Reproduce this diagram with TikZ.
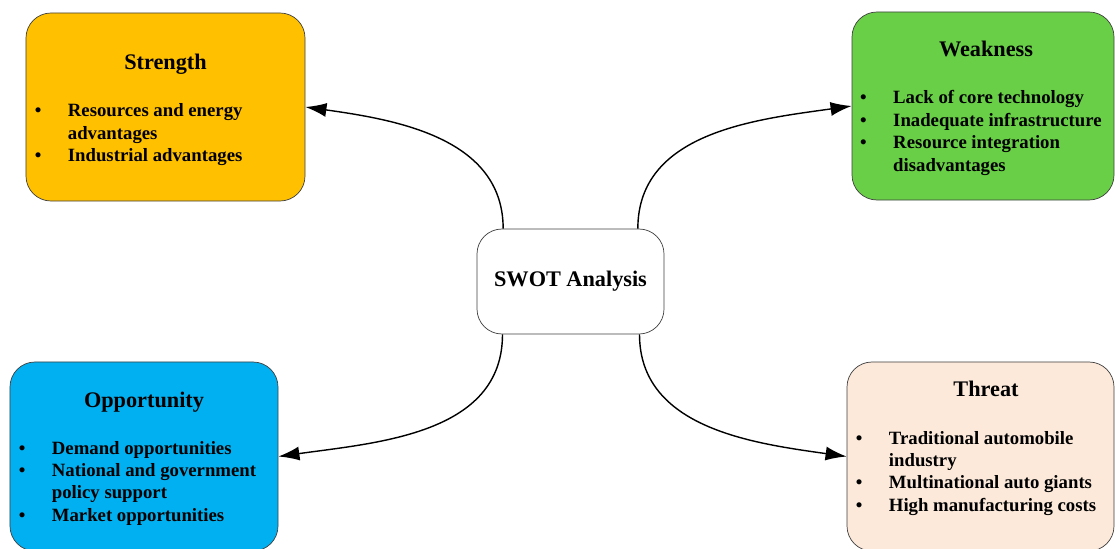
\documentclass[tikz,border=0pt]{standalone}
\usepackage{fontspec}
\setmainfont{Liberation Serif}
\usetikzlibrary{arrows.meta}

\definecolor{strengthcol}{RGB}{255,192,0}
\definecolor{weakcol}{RGB}{104,207,70}
\definecolor{oppcol}{RGB}{0,176,240}
\definecolor{threatcol}{RGB}{252,233,218}
\newcommand{\bul}{\makebox[0.99cm][l]{\textbullet}}
\newcommand{\nobul}{\hspace{0.99cm}}

\begin{document}
\begin{tikzpicture}[x=0.03cm, y=0.03cm,
  box/.style={draw=black!75, line width=0.6pt, rounded corners=0.75cm, inner sep=0pt},
  title/.style={font=\fontsize{19}{23}\selectfont\bfseries, anchor=base, inner sep=0pt},
  items/.style={font=\fontsize{16}{19.2}\selectfont\bfseries, anchor=base west, inner sep=0pt},
  link/.style={-{Latex[length=18pt,width=12pt]}, line width=1.2pt}]
\useasboundingbox (0,0) rectangle (1115,548);
\clip (0,0) rectangle (1115,548);

% boxes
\node[box, fill=strengthcol, minimum width=8.37cm, minimum height=5.64cm] (strength) at (165.5,441) {};
\node[box, fill=weakcol, minimum width=7.86cm, minimum height=5.64cm] (weak) at (983,442) {};
\node[box, fill=oppcol, minimum width=8.04cm, minimum height=5.67cm] (opp) at (144,91.5) {};
\node[box, fill=threatcol, minimum width=8.01cm, minimum height=5.67cm] (threat) at (980.5,91.5) {};
\node[box, fill=white, minimum width=5.61cm, minimum height=3.15cm,
  font=\fontsize{19}{23}\selectfont\bfseries] (swot) at (570.5,266.5) {\raisebox{-2pt}{SWOT Analysis}};

% titles
\node[title] (strength-title) at (165.5,478) {Strength};
\node[title] (weak-title) at (986,491) {Weakness};
\node[title] (opp-title) at (144,141) {Opportunity};
\node[title] (threat-title) at (986,152) {Threat};

% lists
\node[items] (strength-list) at (34.7,431) {\begin{tabular}[t]{@{}l@{}}
  \bul Resources and energy\\
  \nobul advantages\\
  \bul Industrial advantages
\end{tabular}};
\node[items] (weak-list) at (860,444) {\begin{tabular}[t]{@{}l@{}}
  \bul Lack of core technology\\
  \bul Inadequate infrastructure\\
  \bul Resource integration\\
  \nobul disadvantages
\end{tabular}};
\node[items] (opp-list) at (18.7,94) {\begin{tabular}[t]{@{}l@{}}
  \bul Demand opportunities\\
  \bul National and government\\
  \nobul policy support\\
  \bul Market opportunities
\end{tabular}};
\node[items] (threat-list) at (855.7,104) {\begin{tabular}[t]{@{}l@{}}
  \bul Traditional automobile\\
  \nobul industry\\
  \bul Multinational auto giants\\
  \bul High manufacturing costs
\end{tabular}};

% arrows
\draw[link] ([xshift=-2.02cm]swot.north) to[out=90, in=-8] (strength.east);
\draw[link] ([xshift=2.02cm]swot.north) to[out=90, in=188] (weak.west);
\draw[link] ([xshift=-2.04cm]swot.south) to[out=-90, in=8] (opp.east);
\draw[link] ([xshift=2.07cm]swot.south) to[out=-90, in=172] (threat.west);

\end{tikzpicture}
\end{document}
